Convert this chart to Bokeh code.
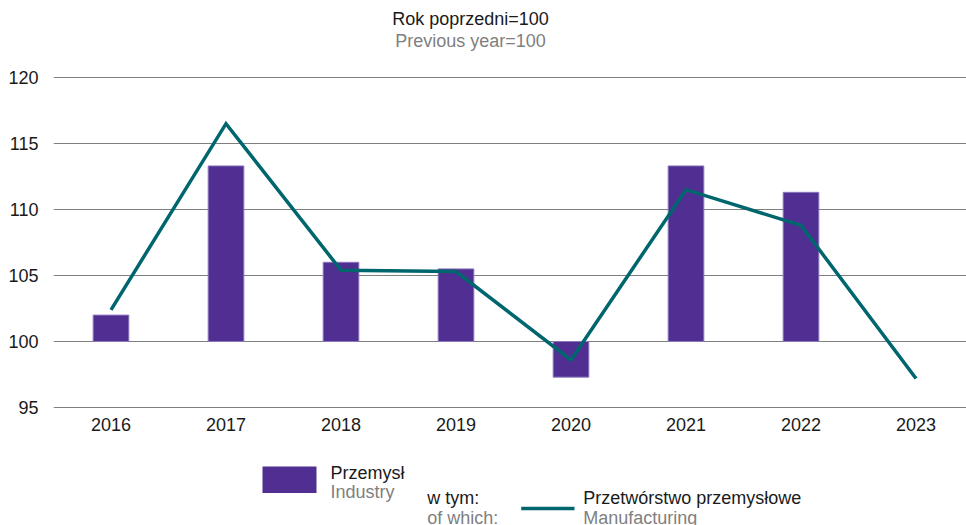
from bokeh.plotting import figure
from bokeh.layouts import column
from bokeh.models import Range1d, FixedTicker, ColumnDataSource
from bokeh.core.properties import value
from bokeh.embed import file_html
from bokeh.resources import INLINE

years = [2016, 2017, 2018, 2019, 2020, 2021, 2022, 2023]
industry = [102.0, 113.3, 106.0, 105.5, 97.3, 113.3, 111.3, float("nan")]
manufacturing = [102.4, 116.5, 105.4, 105.3, 98.6, 111.5, 108.8, 97.2]
y_ticks = [95, 100, 105, 110, 115, 120]

title_pl = "Rok poprzedni=100"
title_en = "Previous year=100"
industry_pl, industry_en = "Przemysł", "Industry"
which_pl, which_en = "w tym:", "of which:"
manuf_pl, manuf_en = "Przetwórstwo przemysłowe", "Manufacturing"

FONT = "Liberation Sans"
FS = "18px"
BAR = "#512E91"
LINE = "#00666E"
GRAY = "#7f7f7f"
TXT = "#1a1a1a"
W = 966
LEFT = 53       # frame left edge (shared by all stacked figures)
TXT_DY = -5.5   # baseline correction for text glyphs


def blank(height, y_top):
    f = figure(width=W, height=height, output_backend="svg", toolbar_location=None,
               x_range=Range1d(LEFT, W), y_range=Range1d(y_top + height, y_top),
               x_axis_type=None, y_axis_type=None,
               min_border_left=LEFT, min_border_right=0,
               min_border_top=0, min_border_bottom=0)
    f.outline_line_color = None
    f.xgrid.grid_line_color = None
    f.ygrid.grid_line_color = None
    return f


def txt(f, x, y, s, color=TXT, align="left"):
    f.text(x=[x], y=[y + TXT_DY], text=[s], text_font=value(FONT), text_font_size=FS,
           text_color=color, text_align=align, text_baseline="alphabetic")


# ---- title strip
ft = blank(60, 0)
txt(ft, 470, 24.3, title_pl, align="center")
txt(ft, 470, 45.7, title_en, color=GRAY, align="center")

# ---- main chart
src = ColumnDataSource(dict(year=years, industry=industry, manufacturing=manufacturing))
px = 13.2  # pixels per unit
p = figure(width=W, height=380, output_backend="svg", toolbar_location=None,
           x_range=Range1d(2015.5, 2015.5 + (W - LEFT) / 115),
           y_range=Range1d(95 - 1 / px, 120 + 1 / px),
           min_border_left=LEFT, min_border_right=0, min_border_top=16, min_border_bottom=32)
p.outline_line_color = None

p.vbar(x="year", width=0.31, bottom=100, top="industry", source=src,
       fill_color=BAR, line_color="#8a78bd", line_width=1)
p.line(x="year", y="manufacturing", source=src, line_color=LINE, line_width=3.5,
       line_join="miter")

p.xgrid.grid_line_color = None
p.ygrid.ticker = FixedTicker(ticks=y_ticks)
p.ygrid.grid_line_color = GRAY
p.ygrid.grid_line_width = 1
p.ygrid.level = "underlay"

for ax in (p.xaxis[0], p.yaxis[0]):
    ax.axis_line_color = None
    ax.major_tick_line_color = None
    ax.minor_tick_line_color = None
    ax.major_tick_out = 0
    ax.major_tick_in = 0
    ax.major_label_text_font = FONT
    ax.major_label_text_font_size = FS
    ax.major_label_text_color = TXT
p.yaxis[0].ticker = FixedTicker(ticks=y_ticks)
p.yaxis[0].major_label_standoff = 15
p.xaxis[0].ticker = FixedTicker(ticks=years)
p.xaxis[0].major_label_standoff = 9

# ---- legend strip
fl = blank(85, 440)
fl.quad(left=[262], right=[316], top=[466], bottom=[492.5], fill_color=BAR, line_color=None)
txt(fl, 330, 478.3, industry_pl)
txt(fl, 330, 497.3, industry_en, color=GRAY)
txt(fl, 426.7, 503, which_pl)
txt(fl, 426.7, 523, which_en, color=GRAY)
fl.line(x=[520.7, 574], y=[508, 508], line_color=LINE, line_width=3.5)
txt(fl, 582.7, 503, manuf_pl)
txt(fl, 582.7, 523, manuf_en, color=GRAY)

layout = column(ft, p, fl, spacing=0)
open("out.html", "w").write(file_html(layout, INLINE))
